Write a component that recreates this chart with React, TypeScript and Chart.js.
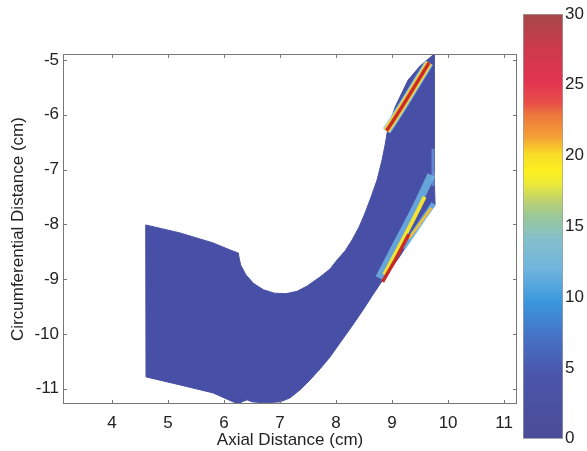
import React, { useEffect, useRef } from "react";
import { Chart, registerables } from "chart.js";
Chart.register(...registerables);

// Axis ticks
const xTicks = [4, 5, 6, 7, 8, 9, 10, 11];
const yTicks = [-5, -6, -7, -8, -9, -10, -11];
const colorTicks = [0, 5, 10, 15, 20, 25, 30];

// Outline of the computed region (axial cm, circumferential cm)
const outlineX = [
  4.602, 5.214, 5.804, 6.107, 6.250,
  6.254, 6.296, 6.393, 6.530, 6.704, 6.900, 7.104, 7.304, 7.486,
  7.714, 7.893, 8.018, 8.161, 8.286, 8.411, 8.518, 8.625, 8.732, 8.821, 8.875, 8.911,
  8.929, 9.054, 9.286, 9.500, 9.750,
  9.750, 9.768, 9.679, 9.500, 9.321, 9.143, 8.964, 8.786, 8.643, 8.482, 8.286, 8.071,
  7.893, 7.714, 7.536, 7.357, 7.179, 7.000, 6.732, 6.500, 6.411, 6.321, 6.250, 6.161,
  5.804, 5.214, 4.607, 4.602,
];
const outlineY = [
  -8.011, -8.157, -8.339, -8.467, -8.522,
  -8.536, -8.741, -8.927, -9.082, -9.195, -9.257, -9.266, -9.223, -9.124,
  -8.960, -8.814, -8.650, -8.485, -8.285, -8.047, -7.792, -7.500, -7.190, -6.825, -6.551, -6.332,
  -6.241, -5.858, -5.365, -5.109, -4.891,
  -7.062, -7.646, -7.774, -8.011, -8.285, -8.577, -8.832, -9.088, -9.307, -9.562, -9.854, -10.164,
  -10.420, -10.639, -10.839, -11.022, -11.168, -11.241, -11.259, -11.241, -11.204, -11.241, -11.275, -11.241,
  -11.077, -10.931, -10.785, -8.011,
];

// High-value streak near the upper tip
const topStreakX = [8.90, 8.98, 9.21, 9.45, 9.66];
const topStreakY = [-6.29, -6.17, -5.80, -5.40, -5.05];

// High-value streaks on the lower-right side
const lowHaloX = [8.77, 9.10, 9.42, 9.70];
const lowHaloY = [-8.98, -8.33, -7.70, -7.10];
const lowYellowX = [8.86, 9.13, 9.36, 9.58];
const lowYellowY = [-8.92, -8.40, -7.95, -7.50];
const lowRedX = [8.83, 9.05, 9.30];
const lowRedY = [-9.05, -8.66, -8.18];
const rightHaloX = [9.20, 9.74];
const rightHaloY = [-8.44, -7.62];
const rightOrangeX = [9.30, 9.70];
const rightOrangeY = [-8.26, -7.70];
const edgeX = [9.73, 9.73];
const edgeY = [-6.62, -7.30];

const FONT = "'Liberation Sans', Arial, sans-serif";
const pts = (xs: number[], ys: number[]) => xs.map((x, i) => ({ x, y: ys[i] }));

const streak = (xs: number[], ys: number[], color: string, width: number, order: number) => ({
  data: pts(xs, ys),
  showLine: true,
  fill: false,
  borderColor: color,
  borderWidth: width,
  borderCapStyle: "butt" as const,
  borderJoinStyle: "round" as const,
  pointRadius: 0,
  tension: 0.3,
  order,
});

const boxPlugin = {
  id: "boxTicks",
  afterDatasetsDraw(chart: any) {
    const { ctx, chartArea, scales } = chart;
    const { left, right, top, bottom } = chartArea;
    ctx.save();
    ctx.strokeStyle = "#777";
    ctx.lineWidth = 1;
    ctx.strokeRect(left + 0.5, top + 0.5, right - left - 1, bottom - top - 1);
    ctx.beginPath();
    xTicks.forEach((v) => {
      const px = Math.round(scales.x.getPixelForValue(v)) + 0.5;
      ctx.moveTo(px, bottom);
      ctx.lineTo(px, bottom - 4);
      ctx.moveTo(px, top);
      ctx.lineTo(px, top + 4);
    });
    yTicks.forEach((v) => {
      const py = Math.round(scales.y.getPixelForValue(v)) + 0.5;
      ctx.moveTo(left, py);
      ctx.lineTo(left + 4, py);
      ctx.moveTo(right, py);
      ctx.lineTo(right - 4, py);
    });
    ctx.stroke();
    ctx.restore();
  },
};

const colorStops: [number, string][] = [
  [0, "#4b4c96"],
  [0.15, "#4a55aa"],
  [0.25, "#4676c8"],
  [0.32, "#3a96dc"],
  [0.4, "#6fb5de"],
  [0.47, "#84bfcc"],
  [0.52, "#98c79c"],
  [0.56, "#bcd270"],
  [0.6, "#ecea38"],
  [0.63, "#fcf020"],
  [0.67, "#f9dd28"],
  [0.71, "#f4a034"],
  [0.76, "#ee7a3c"],
  [0.79, "#e85048"],
  [0.84, "#e23452"],
  [0.92, "#cc3a4c"],
  [1, "#a5484a"],
];

export default function App() {
  const mainRef = useRef<HTMLCanvasElement>(null);
  const barRef = useRef<HTMLCanvasElement>(null);

  useEffect(() => {
    const tickFont = { family: FONT, size: 17 };
    const main = new Chart(mainRef.current!, {
      type: "scatter",
      data: {
        datasets: [
          {
            data: pts(outlineX, outlineY),
            showLine: true,
            fill: "shape",
            backgroundColor: "#4750a6",
            borderColor: "#4750a6",
            borderWidth: 1,
            pointRadius: 0,
            tension: 0,
            order: 20,
          } as any,
          streak(edgeX, edgeY, "rgba(110,160,230,0.7)", 3, 12),
          streak(topStreakX, topStreakY, "rgba(140,205,235,0.85)", 9, 11),
          streak(topStreakX, topStreakY, "#f2e436", 6.5, 10),
          streak(topStreakX, topStreakY, "#f09030", 4.5, 9),
          streak(topStreakX, topStreakY, "#c62a2a", 3, 8),
          streak(lowHaloX, lowHaloY, "rgba(110,185,230,0.8)", 8, 7),
          streak(rightHaloX, rightHaloY, "rgba(110,185,230,0.8)", 5, 6),
          streak(rightOrangeX, rightOrangeY, "#f2c232", 2.5, 5),
          streak(lowYellowX, lowYellowY, "#f2e232", 4, 4),
          streak(lowRedX, lowRedY, "#c62a2a", 3.5, 3),
        ],
      },
      options: {
        animation: false,
        responsive: false,
        layout: { padding: { top: 54, right: 70, left: 0, bottom: 0 } },
        plugins: { legend: { display: false }, tooltip: { enabled: false } },
        scales: {
          x: {
            type: "linear",
            min: 3.125,
            max: 11.23,
            afterBuildTicks: (s: any) => {
              s.ticks = xTicks.map((v) => ({ value: v }));
            },
            afterFit: (s: any) => {
              s.height = 47;
            },
            grid: { display: false, drawTicks: false },
            border: { display: false },
            ticks: {
              padding: 9,
              font: tickFont,
              color: "#222",
              maxRotation: 0,
              autoSkip: false,
              callback: (v: any) => String(v),
            },
            title: {
              display: true,
              text: "Axial Distance (cm)",
              font: tickFont,
              color: "#222",
              padding: { top: 0, bottom: 0 },
            },
          },
          y: {
            type: "linear",
            min: -11.28,
            max: -4.89,
            afterBuildTicks: (s: any) => {
              s.ticks = yTicks.map((v) => ({ value: v }));
            },
            afterFit: (s: any) => {
              s.width = 63;
            },
            grid: { display: false, drawTicks: false },
            border: { display: false },
            ticks: {
              padding: 4,
              font: tickFont,
              color: "#222",
              autoSkip: false,
              callback: (v: any) => String(v),
            },
            title: {
              display: true,
              text: "Circumferential Distance (cm)",
              font: tickFont,
              color: "#222",
              padding: { top: 8, bottom: 0 },
            },
          },
        },
      },
      plugins: [boxPlugin],
    });

    const bar = new Chart(barRef.current!, {
      type: "bar",
      data: {
        labels: [""],
        datasets: [
          {
            data: [colorTicks[colorTicks.length - 1]],
            backgroundColor: (c: any) => {
              const { ctx, chartArea } = c.chart;
              if (!chartArea) return "#4b4c96";
              const g = ctx.createLinearGradient(0, chartArea.bottom, 0, chartArea.top);
              colorStops.forEach(([p, col]) => g.addColorStop(p, col));
              return g;
            },
            borderColor: "rgba(80,80,80,0.55)",
            borderWidth: 1,
            borderSkipped: false,
            barPercentage: 1,
            categoryPercentage: 1,
          } as any,
        ],
      },
      options: {
        animation: false,
        responsive: false,
        layout: { padding: { top: 14, bottom: 4, left: 23, right: 0 } },
        plugins: { legend: { display: false }, tooltip: { enabled: false } },
        scales: {
          x: { display: false },
          y: {
            position: "right",
            min: colorTicks[0],
            max: colorTicks[colorTicks.length - 1],
            afterBuildTicks: (s: any) => {
              s.ticks = colorTicks.map((v) => ({ value: v }));
            },
            afterFit: (s: any) => {
              s.width = 24;
            },
            grid: { display: false, drawTicks: false },
            border: { display: false },
            ticks: {
              padding: 2,
              font: tickFont,
              color: "#222",
              callback: (v: any) => String(v),
            },
          },
        },
      },
    });

    return () => {
      main.destroy();
      bar.destroy();
    };
  }, []);

  return (
    <div style={{ position: "absolute", left: 0, top: 0, width: 587, height: 451, background: "#fff", overflow: "hidden" }}>
      <canvas ref={mainRef} width={587} height={451} style={{ position: "absolute", left: 0, top: 0 }} />
      <canvas ref={barRef} width={87} height={451} style={{ position: "absolute", left: 500, top: 0 }} />
    </div>
  );
}
